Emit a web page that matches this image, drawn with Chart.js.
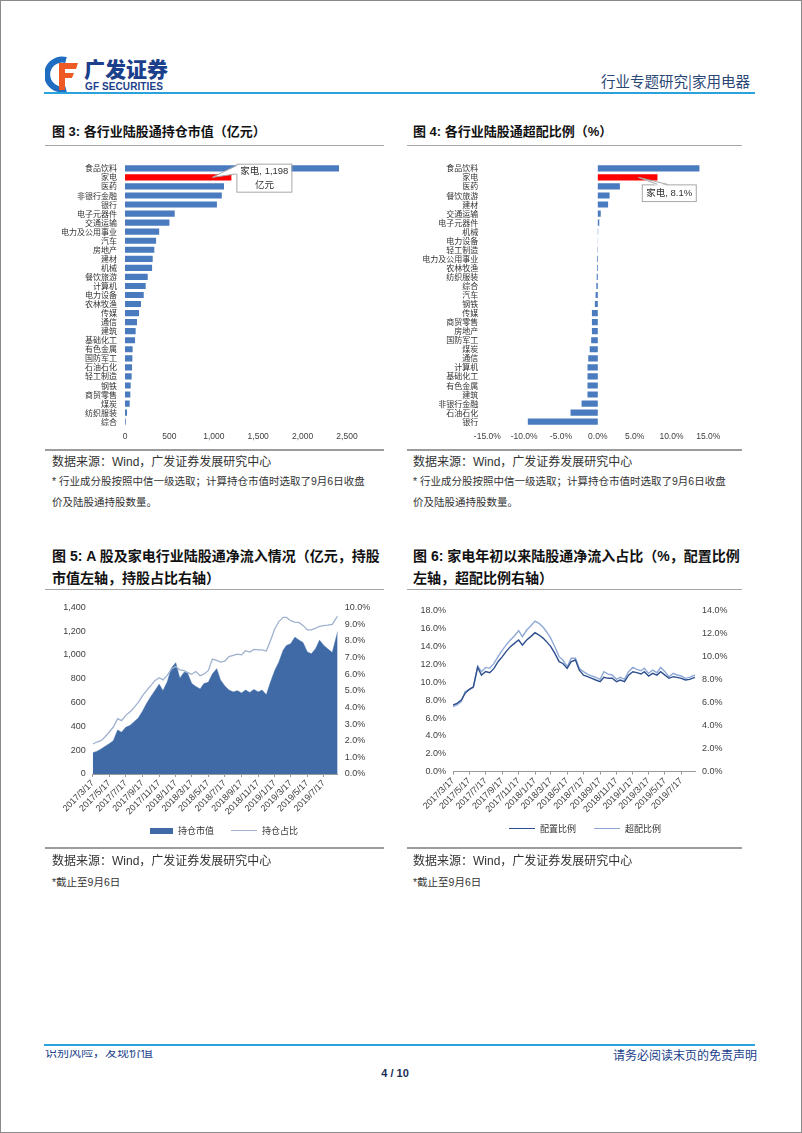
<!DOCTYPE html>
<html lang="zh-CN">
<head>
<meta charset="utf-8">
<title>行业专题研究 | 家用电器</title>
<script src="https://cdn.jsdelivr.net/npm/chart.js@4.4.1/dist/chart.umd.min.js"></script>
<style>
  html, body { margin: 0; padding: 0; background: #fff; }
  #page { position: relative; width: 802px; height: 1133px; overflow: hidden;
    font-family: 'Liberation Sans', 'Noto Sans CJK SC', sans-serif; color: #222; }
  #frame { position: absolute; left: 0; top: 0; width: 800px; height: 1131px; border: 1px solid #8a8a8a; }
  .abs { position: absolute; white-space: nowrap; }
  .rule { position: absolute; height: 0; }
  .title { font-size: 13px; line-height: 13px; font-weight: bold; color: #111; }
  .title2 { font-size: 14px; line-height: 22px; font-weight: bold; color: #111; }
  .src { font-size: 12px; line-height: 12px; color: #333; }
  .note { font-size: 10.5px; line-height: 21px; color: #333; }
  .legend { font-family: 'Noto Sans CJK SC', sans-serif; font-size: 9px; line-height: 10px; color: #333; }
  canvas { position: absolute; }
</style>
</head>
<body>
<div id="page">
  <div id="frame"></div>

  <!-- header -->
  <svg class="abs" style="left:45px;top:56px" width="36" height="37" viewBox="0 0 36 37">
    <path d="M21 4 A15 15 0 1 0 21 33" stroke="#1f6cc0" stroke-width="6" fill="none"/>
    <path d="M14 7 H33 L31 13 H20 V17 H29 L27 22 H20 V34 H14 Z" fill="#ef5a24"/>
  </svg>
  <div class="abs" style="left:84px;top:56px;font-family:'Noto Sans CJK SC';font-weight:900;font-size:21px;line-height:24px;color:#1b3f8b">广发证券</div>
  <div class="abs" style="left:85px;top:81px;font-weight:bold;font-size:10px;line-height:11px;color:#1b3f8b;letter-spacing:0.1px">GF SECURITIES</div>
  <div class="abs" style="left:601px;top:73px;font-family:'Noto Sans CJK SC';font-size:14.5px;line-height:16px;color:#2a4675">行业专题研究|家用电器</div>
  <div class="rule" style="left:44px;top:92px;width:711px;border-top:2px solid #2aa2dc"></div>

  <!-- figure 3 / 4 -->
  <div class="abs title" style="left:52px;top:125px">图 3:&nbsp;各行业陆股通持仓市值（亿元）</div>
  <div class="abs title" style="left:413px;top:125px">图 4:&nbsp;各行业陆股通超配比例（%）</div>
  <div class="rule" style="left:45px;top:145px;width:339px;border-top:1.5px solid #a6a6a6"></div>
  <div class="rule" style="left:407px;top:145px;width:335px;border-top:1.5px solid #a6a6a6"></div>

  <canvas id="holdChart" width="340" height="298" style="left:45px;top:150px"></canvas>
  <canvas id="overChart" width="340" height="298" style="left:405px;top:150px"></canvas>

  <div class="rule" style="left:45px;top:449px;width:339px;border-top:2px solid #9c9c9c"></div>
  <div class="rule" style="left:407px;top:449px;width:335px;border-top:2px solid #9c9c9c"></div>
  <div class="abs src" style="left:52px;top:456px">数据来源：Wind，广发证券发展研究中心</div>
  <div class="abs src" style="left:413px;top:456px">数据来源：Wind，广发证券发展研究中心</div>
  <div class="abs note" style="left:52px;top:471px">* 行业成分股按照中信一级选取；计算持仓市值时选取了9月6日收盘<br>价及陆股通持股数量。</div>
  <div class="abs note" style="left:413px;top:471px">* 行业成分股按照中信一级选取；计算持仓市值时选取了9月6日收盘<br>价及陆股通持股数量。</div>

  <!-- figure 5 / 6 -->
  <div class="abs title2" style="left:52px;top:545px">图 5:&nbsp;A 股及家电行业陆股通净流入情况（亿元，持股<br>市值左轴，持股占比右轴）</div>
  <div class="abs title2" style="left:413px;top:545px">图 6:&nbsp;家电年初以来陆股通净流入占比（%，配置比例<br>左轴，超配比例右轴）</div>
  <div class="rule" style="left:45px;top:589px;width:339px;border-top:1.5px solid #a6a6a6"></div>
  <div class="rule" style="left:407px;top:589px;width:335px;border-top:1.5px solid #a6a6a6"></div>

  <canvas id="flowChart" width="340" height="230" style="left:45px;top:595px"></canvas>
  <canvas id="ratioChart" width="340" height="230" style="left:405px;top:595px"></canvas>

  <div class="abs legend" style="left:150px;top:825px">
    <span style="display:inline-block;width:23px;height:6px;background:#3f6aa6;vertical-align:middle"></span>
    <span style="vertical-align:middle;margin-left:3px">持仓市值</span>
    <span style="display:inline-block;width:26px;height:0;border-top:1.3px solid #9fb1cf;vertical-align:middle;margin-left:15px"></span>
    <span style="vertical-align:middle;margin-left:3px">持仓占比</span>
  </div>
  <div class="abs legend" style="left:509px;top:823px">
    <span style="display:inline-block;width:26px;height:0;border-top:1.6px solid #2e4f8e;vertical-align:middle"></span>
    <span style="vertical-align:middle;margin-left:3px">配置比例</span>
    <span style="display:inline-block;width:26px;height:0;border-top:1.6px solid #8fa9d6;vertical-align:middle;margin-left:16px"></span>
    <span style="vertical-align:middle;margin-left:3px">超配比例</span>
  </div>

  <div class="rule" style="left:45px;top:847px;width:339px;border-top:2px solid #9c9c9c"></div>
  <div class="rule" style="left:407px;top:847px;width:335px;border-top:2px solid #9c9c9c"></div>
  <div class="abs src" style="left:52px;top:855px">数据来源：Wind，广发证券发展研究中心</div>
  <div class="abs src" style="left:413px;top:855px">数据来源：Wind，广发证券发展研究中心</div>
  <div class="abs note" style="left:52px;top:872px">*截止至9月6日</div>
  <div class="abs note" style="left:413px;top:872px">*截止至9月6日</div>

  <!-- footer -->
  <div class="rule" style="left:44px;top:1044px;width:711px;border-top:2px solid #2aa2dc"></div>
  <div class="abs" style="left:45px;top:1050px;height:8px;overflow:hidden">
    <div style="font-family:'Noto Sans CJK SC';font-size:12px;line-height:12px;color:#1b3f8b;margin-top:-4px">识别风险，发现价值</div>
  </div>
  <div class="abs" style="left:613px;top:1048px;font-family:'Noto Sans CJK SC';font-size:12px;line-height:13px;color:#1b3f8b">请务必阅读末页的免责声明</div>
  <div class="abs" style="left:381px;top:1067px;width:28px;text-align:center;font-weight:bold;font-size:11px;line-height:12px;color:#1a2e55">4 / 10</div>
</div>

<script>
// Fig 3: holdings market value by industry (亿元)
const holdCats = ['食品饮料', '家电', '医药', '非银行金融', '银行', '电子元器件', '交通运输', '电力及公用事业', '汽车', '房地产', '建材', '机械', '餐饮旅游', '计算机', '电力设备', '农林牧渔', '传媒', '通信', '建筑', '基础化工', '有色金属', '国防军工', '石油石化', '轻工制造', '钢铁', '商贸零售', '煤炭', '纺织服装', '综合'];
const holdValues = [2410, 1198, 1115, 1090, 1035, 560, 500, 385, 350, 330, 312, 305, 256, 233, 211, 180, 158, 135, 120, 113, 86, 83, 79, 75, 64, 60, 53, 23, 8];

// Fig 4: overweight ratio by industry (%)
const overCats = ['食品饮料', '家电', '医药', '餐饮旅游', '建材', '交通运输', '电子元器件', '机械', '电力设备', '轻工制造', '电力及公用事业', '农林牧渔', '纺织服装', '综合', '汽车', '钢铁', '传媒', '商贸零售', '房地产', '国防军工', '煤炭', '通信', '计算机', '基础化工', '有色金属', '建筑', '非银行金融', '石油石化', '银行'];
const overValues = [13.8, 8.1, 3.0, 1.6, 1.4, 0.4, 0.2, 0.05, 0.02, -0.05, -0.1, -0.1, -0.15, -0.2, -0.3, -0.4, -0.8, -0.8, -0.8, -0.9, -1.1, -1.3, -1.4, -1.4, -1.4, -1.4, -2.2, -3.7, -9.5];

// Fig 5 / 6: time series
const flowDates = [
  '2017/3/17', '2017/4/1', '2017/4/17', '2017/5/1', '2017/5/17', '2017/6/1', '2017/6/17', '2017/7/1', '2017/7/17', '2017/8/1',
  '2017/8/17', '2017/9/1', '2017/9/17', '2017/10/1', '2017/10/17', '2017/11/1', '2017/11/17', '2017/12/1', '2017/12/17',
  '2018/1/1', '2018/1/17', '2018/2/1', '2018/2/17', '2018/3/1', '2018/3/17', '2018/4/1', '2018/4/17', '2018/5/1', '2018/5/17',
  '2018/6/1', '2018/6/17', '2018/7/1', '2018/7/17', '2018/8/1', '2018/8/17', '2018/9/1', '2018/9/17', '2018/10/1', '2018/10/17',
  '2018/11/1', '2018/11/17', '2018/12/1', '2018/12/17',
  '2019/1/1', '2019/1/17', '2019/2/1', '2019/2/17', '2019/3/1', '2019/3/17', '2019/4/1', '2019/4/17', '2019/5/1', '2019/5/17',
  '2019/6/1', '2019/6/17', '2019/7/1', '2019/7/17', '2019/8/1', '2019/8/17', '2019/9/6'
];
// 持仓市值 (亿元, left axis)
const holdMv = [
  178, 190, 210, 232, 255, 280, 370, 350, 392, 408, 440, 470, 530, 590, 650, 700, 755, 700, 775,
  890, 935, 805, 855, 850, 760, 735, 715, 760, 770, 840, 885, 790, 740, 705, 690, 700, 680, 705, 685, 710, 690, 705, 665,
  770, 870, 940, 1040, 1080, 1095, 1150, 1125, 1105, 1025, 1010, 1055, 1125, 1080, 1050, 1020, 1198
];
// 持仓占比 (%, right axis)
const holdPct = [
  1.8, 1.92, 2.0, 2.22, 2.52, 2.82, 3.32, 3.2, 3.52, 3.72, 4.0, 4.3, 4.7, 5.0, 5.3, 5.6, 5.78, 5.65, 5.92,
  6.3, 6.45, 6.25, 6.2, 6.1, 5.98, 6.15, 5.9, 6.0, 6.2, 6.9, 6.82, 6.72, 6.78, 7.05, 7.12, 7.2, 7.15, 7.4, 7.32, 7.48, 7.45, 7.45, 7.38,
  8.0, 8.7, 9.15, 9.4, 9.4, 9.2, 9.12, 9.08, 8.92, 8.65, 8.65, 8.75, 8.86, 8.9, 8.93, 8.98, 9.5
];
// 配置比例 (%, left axis)
const allocPct = [
  7.45, 7.64, 8.0, 8.76, 9.2, 9.5, 11.67, 10.8, 11.2, 11.07, 11.55, 12.3, 12.86, 13.42, 13.98, 14.35, 14.72, 14.16, 14.72,
  15.1, 15.54, 15.28, 14.91, 14.54, 13.98, 13.23, 12.3, 12.1, 11.55, 12.3, 12.49, 11.37, 10.8, 10.62, 10.44, 10.25, 10.06, 10.55, 10.44, 10.44, 10.06, 10.25, 10.06,
  10.8, 11.18, 11.07, 10.92, 11.18, 10.7, 11.0, 10.8, 11.18, 10.8, 10.44, 10.62, 10.55, 10.44, 10.25, 10.32, 10.55
];
// 超配比例 (%, right axis)
const overPct = [
  5.65, 5.8, 6.09, 6.96, 7.16, 7.33, 9.19, 8.7, 9.07, 8.99, 9.42, 10.0, 10.58, 11.01, 11.45, 11.8, 12.26, 11.74, 12.32,
  12.67, 13.1, 12.9, 12.55, 12.17, 11.59, 10.87, 10.0, 9.71, 9.13, 9.86, 9.86, 8.99, 8.7, 8.49, 8.32, 8.2, 8.03, 8.7, 8.49, 8.41, 8.03, 8.2, 8.03,
  8.7, 9.07, 8.9, 8.78, 8.99, 8.55, 8.84, 8.61, 9.07, 8.7, 8.26, 8.55, 8.41, 8.32, 8.12, 8.2, 8.41
];
const flowTicks = ['2017/3/17', '2017/5/17', '2017/7/17', '2017/9/17', '2017/11/17', '2018/1/17', '2018/3/17', '2018/5/17',
  '2018/7/17', '2018/9/17', '2018/11/17', '2019/1/17', '2019/3/17', '2019/5/17', '2019/7/17'];

const blue = '#4a7bbf';
const red = '#ff0000';
const areaBlue = '#3f6aa6';
const cjkFont = { family: "'Noto Sans CJK SC', sans-serif", size: 8 };
const numFont = { family: "'Liberation Sans', Arial, sans-serif", size: 8.5 };
const axisFont = { family: "'Liberation Sans', Arial, sans-serif", size: 9 };

// days since first date, so the x scale is true to the calendar
function dayOf(s) {
  const [y, m, d] = s.split('/').map(Number);
  return Math.round((Date.UTC(y, m - 1, d) - Date.UTC(2017, 2, 17)) / 86400000);
}
const tickLabel = {};
flowTicks.forEach(t => { tickLabel[dayOf(t)] = t; });

// callout box pointing at one bar
const calloutPlugin = {
  id: 'callout',
  afterDatasetsDraw(chart, args, o) {
    const bar = chart.getDatasetMeta(0).data[o.index];
    const ax = bar.x, ay = bar.y;
    const ctx = chart.ctx;
    const bx = ax + o.dx, by = ay + o.dy;
    ctx.save();
    ctx.fillStyle = '#fff';
    ctx.strokeStyle = '#a8a8a8';
    ctx.lineWidth = 1;
    ctx.fillRect(bx, by, o.w, o.h);
    ctx.strokeRect(bx + 0.5, by + 0.5, o.w, o.h);
    const p1 = [ax + o.p1[0], ay + o.p1[1]];
    const p2 = [ax + o.p2[0], ay + o.p2[1]];
    const tip = [ax + o.tip, ay];
    ctx.beginPath();
    ctx.moveTo(p1[0] + o.inset[0], p1[1] + o.inset[1]);
    ctx.lineTo(tip[0], tip[1]);
    ctx.lineTo(p2[0] + o.inset[0], p2[1] + o.inset[1]);
    ctx.closePath();
    ctx.fill();
    ctx.beginPath();
    ctx.moveTo(p1[0], p1[1]);
    ctx.lineTo(tip[0], tip[1]);
    ctx.lineTo(p2[0], p2[1]);
    ctx.stroke();
    ctx.fillStyle = '#333';
    ctx.font = "9.5px 'Liberation Sans', 'Noto Sans CJK SC', sans-serif";
    ctx.textAlign = 'center';
    ctx.textBaseline = 'middle';
    const lh = o.h / o.lines.length;
    o.lines.forEach((t, i) => ctx.fillText(t, bx + o.w / 2 + 0.5, by + lh * (i + 0.5) + 1));
    ctx.restore();
  }
};

// Fig 3
new Chart(document.getElementById('holdChart'), {
  type: 'bar',
  data: {
    labels: holdCats,
    datasets: [{
      data: holdValues,
      backgroundColor: holdCats.map(c => c === '家电' ? red : blue),
      barPercentage: 0.68,
      categoryPercentage: 1
    }]
  },
  options: {
    indexAxis: 'y',
    responsive: false,
    animation: false,
    layout: { padding: { top: 13.8, right: 38, left: 0, bottom: 0 } },
    plugins: {
      legend: { display: false },
      tooltip: { enabled: false },
      callout: {
        index: 1, dx: 5, dy: -13.7, w: 55, h: 28,
        p1: [5, -12], p2: [5, -3.5], inset: [1.5, 0], tip: -19,
        lines: [holdCats[1] + ', ' + holdValues[1].toLocaleString('en-US'), '亿元']
      }
    },
    scales: {
      x: {
        min: 0, max: 2500,
        ticks: { stepSize: 500, font: numFont, color: '#404040', padding: 5, callback: v => v.toLocaleString('en-US') },
        grid: { display: false, drawTicks: false },
        border: { display: false },
        afterFit: s => { s.height = 21.8; }
      },
      y: {
        ticks: { font: cjkFont, color: '#333', padding: 8, autoSkip: false },
        grid: { display: false, drawTicks: false },
        border: { display: false },
        afterFit: s => { s.width = 80; }
      }
    }
  },
  plugins: [calloutPlugin]
});

// Fig 4
new Chart(document.getElementById('overChart'), {
  type: 'bar',
  data: {
    labels: overCats,
    datasets: [{
      data: overValues,
      backgroundColor: overCats.map(c => c === '家电' ? red : blue),
      barPercentage: 0.68,
      categoryPercentage: 1
    }]
  },
  options: {
    indexAxis: 'y',
    responsive: false,
    animation: false,
    layout: { padding: { top: 13.8, right: 36.7, left: 0, bottom: 0 } },
    plugins: {
      legend: { display: false },
      tooltip: { enabled: false },
      callout: {
        index: 1, dx: -15.7, dy: 7, w: 54, h: 16.7,
        p1: [0, 7], p2: [10, 7], inset: [0, 1.5], tip: -19,
        lines: [overCats[1] + ', ' + overValues[1].toFixed(1) + '%']
      }
    },
    scales: {
      x: {
        min: -15, max: 15,
        ticks: { stepSize: 5, font: numFont, color: '#404040', padding: 5, callback: v => v.toFixed(1) + '%' },
        grid: { display: false, drawTicks: false },
        border: { display: false },
        afterFit: s => { s.height = 21.8; }
      },
      y: {
        ticks: { font: cjkFont, color: '#333', padding: 9, autoSkip: false },
        grid: { display: false, drawTicks: false },
        border: { display: false },
        afterFit: s => { s.width = 82.3; }
      }
    }
  },
  plugins: [calloutPlugin]
});

function dateAxis(rightPad) {
  return {
    type: 'linear',
    min: 0,
    max: dayOf(flowDates[flowDates.length - 1]),
    afterBuildTicks: s => { s.ticks = flowTicks.map(t => ({ value: dayOf(t) })); },
    ticks: {
      font: axisFont, color: '#404040', padding: 1, autoSkip: false,
      maxRotation: 45, minRotation: 45,
      callback: v => tickLabel[v] || ''
    },
    grid: { display: true, drawOnChartArea: false, drawTicks: true, tickLength: 3, color: '#9a9a9a' },
    border: { display: true, color: '#9a9a9a' }
  };
}

// Fig 5
const flowX = dateAxis();
flowX.afterFit = s => { s.height = 51; };
new Chart(document.getElementById('flowChart'), {
  type: 'line',
  data: {
    datasets: [
      {
        label: '持仓市值',
        data: flowDates.map((d, i) => ({ x: dayOf(d), y: holdMv[i] })),
        yAxisID: 'y',
        fill: 'origin',
        backgroundColor: areaBlue,
        borderColor: areaBlue,
        borderWidth: 0.5,
        pointRadius: 0,
        order: 2
      },
      {
        label: '持仓占比',
        data: flowDates.map((d, i) => ({ x: dayOf(d), y: holdPct[i] })),
        yAxisID: 'y1',
        fill: false,
        borderColor: '#9fb1cf',
        borderWidth: 1.3,
        pointRadius: 0,
        order: 1
      }
    ]
  },
  options: {
    responsive: false,
    animation: false,
    layout: { padding: { top: 11.7, right: 0, left: 0, bottom: 0 } },
    plugins: { legend: { display: false }, tooltip: { enabled: false } },
    scales: {
      x: flowX,
      y: {
        min: 0, max: 1400,
        ticks: { stepSize: 200, font: axisFont, color: '#404040', padding: 7, callback: v => v.toLocaleString('en-US') },
        grid: { display: false, drawTicks: false },
        border: { display: false },
        afterFit: s => { s.width = 47.7; }
      },
      y1: {
        position: 'right',
        min: 0, max: 10,
        ticks: { stepSize: 1, font: axisFont, color: '#404040', padding: 7, callback: v => v.toFixed(1) + '%' },
        grid: { display: false, drawTicks: false },
        border: { display: false },
        afterFit: s => { s.width = 47.3; }
      }
    }
  }
});

// Fig 6
const ratioX = dateAxis();
ratioX.afterFit = s => { s.height = 53.3; };
new Chart(document.getElementById('ratioChart'), {
  type: 'line',
  data: {
    datasets: [
      {
        label: '配置比例',
        data: flowDates.map((d, i) => ({ x: dayOf(d), y: allocPct[i] })),
        yAxisID: 'y',
        borderColor: '#2e4f8e',
        borderWidth: 1.4,
        pointRadius: 0,
        order: 1
      },
      {
        label: '超配比例',
        data: flowDates.map((d, i) => ({ x: dayOf(d), y: overPct[i] })),
        yAxisID: 'y1',
        borderColor: '#8fa9d6',
        borderWidth: 1.4,
        pointRadius: 0,
        order: 2
      }
    ]
  },
  options: {
    responsive: false,
    animation: false,
    layout: { padding: { top: 15.7, right: 0, left: 0, bottom: 0 } },
    plugins: { legend: { display: false }, tooltip: { enabled: false } },
    scales: {
      x: ratioX,
      y: {
        min: 0, max: 18,
        ticks: { stepSize: 2, font: axisFont, color: '#404040', padding: 7, callback: v => v.toFixed(1) + '%' },
        grid: { display: false, drawTicks: false },
        border: { display: false },
        afterFit: s => { s.width = 48; }
      },
      y1: {
        position: 'right',
        min: 0, max: 14,
        ticks: { stepSize: 2, font: axisFont, color: '#404040', padding: 7, callback: v => v.toFixed(1) + '%' },
        grid: { display: false, drawTicks: false },
        border: { display: false },
        afterFit: s => { s.width = 50; }
      }
    }
  }
});
</script>
</body>
</html>
